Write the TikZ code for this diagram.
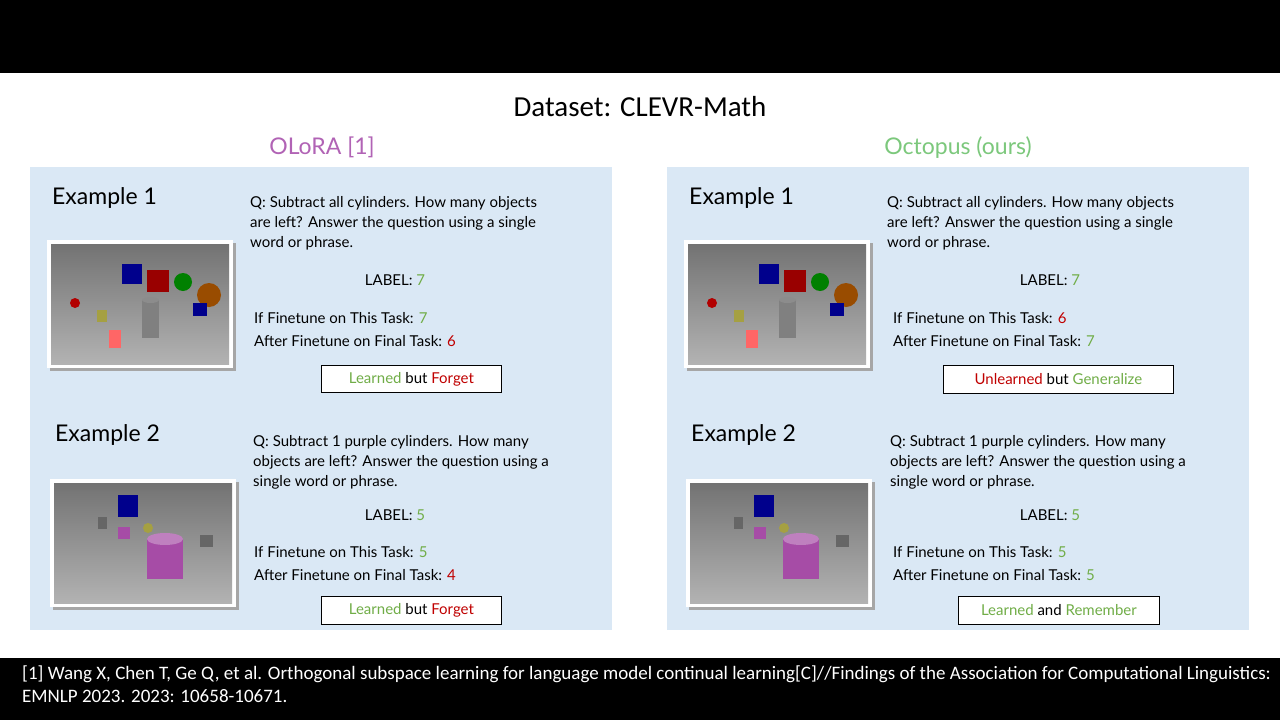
\documentclass[tikz,border=0pt]{standalone}
\usepackage{fontspec}
\setmainfont{Carlito}
\newfontfamily\cfont{Lato}
\definecolor{pan}{HTML}{DAE8F5}
\definecolor{gr}{HTML}{70AD47}
\definecolor{rd}{HTML}{C00000}
\definecolor{pu}{HTML}{B163B5}
\definecolor{gb}{HTML}{7CC87C}
\tikzset{
 txt/.style={anchor=base west,inner sep=0pt,font=\cfont\fontsize{15}{18}\selectfont},
 ctxt/.style={anchor=base,inner sep=0pt,font=\cfont\fontsize{15}{18}\selectfont},
 ex/.style={anchor=base west,inner sep=0pt,font=\cfont\fontsize{23}{26}\selectfont},
 lbox/.style={draw=black,fill=white,line width=0.8pt,anchor=north west,inner sep=0pt,font=\cfont\fontsize{15}{18}\selectfont},
}
\newcommand{\scene}[3]{%
\begin{scope}[shift={(#1,#2)}]
 \fill[black!35] (3,3) rectangle (189,131);
 \fill[white] (0,0) rectangle (186,128);
 \shade[top color=black!55,bottom color=black!30] (4,4) rectangle (182,124);
 \ifnum#3=1
 \fill[blue!55!black] (75,24) rectangle (95,44);
 \fill[red!60!black] (100,30) rectangle (122,52);
 \fill[green!50!black] (136,42) circle (9);
 \fill[orange!60!black] (162,55) circle (12);
 \fill[black!50] (95,60) rectangle (112,98);
 \fill[black!45] (103.5,60) ellipse (8.5 and 3);
 \fill[red!60] (62,90) rectangle (74,108);
 \fill[yellow!60!black] (50,70) rectangle (60,82);
 \fill[red!70!black] (28,63) circle (5);
 \fill[blue!55!black] (146,63) rectangle (160,76);
 \else
 \fill[blue!55!black] (68,16) rectangle (88,38);
 \fill[violet!70] (97,60) rectangle (133,100);
 \fill[violet!50] (115,60) ellipse (18 and 6);
 \fill[violet!70] (68,48) rectangle (80,60);
 \fill[yellow!60!black] (98,49) circle (5);
 \fill[black!60] (48,38) rectangle (57,50);
 \fill[black!60] (150,56) rectangle (163,68);
 \fi
\end{scope}}
\begin{document}
\begin{tikzpicture}[x=1pt,y=-1pt]
\useasboundingbox (0,0) rectangle (1280,720);
\fill[white] (0,0) rectangle (1280,720);
\fill[black] (0,0) rectangle (1280,73);
\fill[black] (0,658) rectangle (1280,720);
\node[anchor=base,inner sep=0pt,font=\fontsize{29}{32}\selectfont] (title) at (640,116) {Dataset: CLEVR-Math};
\node[anchor=base,inner sep=0pt,text=pu,font=\cfont\fontsize{23}{26}\selectfont] (hl) at (322,154) {OLoRA [1]};
\node[anchor=base,inner sep=0pt,text=gb,font=\cfont\fontsize{23}{26}\selectfont] (hr) at (958,154) {Octopus (ours)};
\fill[pan] (30,167) rectangle (612,630);
\fill[pan] (667,167) rectangle (1249,630);
\node[anchor=north west,inner sep=0pt,text=white,align=left,font=\fontsize{19}{23}\selectfont] (ref) at (22,666)
 {[1] Wang X, Chen T, Ge Q, et al. Orthogonal subspace learning for language model continual learning[C]//Findings of the Association for Computational Linguistics:\\EMNLP 2023. 2023: 10658-10671.};
% left panel
\node[ex] (l1) at (52,204) {Example 1};
\scene{47}{240}{1}
\node[txt] (lq1) at (250,207) {Q: Subtract all cylinders. How many objects};
\node[txt] at (250,227) {are left? Answer the question using a single};
\node[txt] at (250,247) {word or phrase.};
\node[ctxt] (ll1) at (395,285) {LABEL: \textcolor{gr}{7}};
\node[txt] (lf1) at (254,323) {If Finetune on This Task: \textcolor{gr}{7}};
\node[txt] (la1) at (254,346) {After Finetune on Final Task: \textcolor{rd}{6}};
\node[lbox,minimum width=180pt,minimum height=27pt] (lb1) at (321,365) {\textcolor{gr}{Learned} but \textcolor{rd}{Forget}};
\node[ex] (l2) at (55,441) {Example 2};
\scene{50}{479}{2}
\node[txt] (lq2) at (253,446) {Q: Subtract 1 purple cylinders. How many};
\node[txt] at (253,466) {objects are left? Answer the question using a};
\node[txt] at (253,486) {single word or phrase.};
\node[ctxt] (ll2) at (395,520) {LABEL: \textcolor{gr}{5}};
\node[txt] (lf2) at (254,557) {If Finetune on This Task: \textcolor{gr}{5}};
\node[txt] (la2) at (254,580) {After Finetune on Final Task: \textcolor{rd}{4}};
\node[lbox,minimum width=180pt,minimum height=28pt] (lb2) at (321,596) {\textcolor{gr}{Learned} but \textcolor{rd}{Forget}};
% right panel
\node[ex] (r1) at (689,204) {Example 1};
\scene{684}{240}{1}
\node[txt] (rq1) at (887,207) {Q: Subtract all cylinders. How many objects};
\node[txt] at (887,227) {are left? Answer the question using a single};
\node[txt] at (887,247) {word or phrase.};
\node[ctxt] (rl1) at (1050,285) {LABEL: \textcolor{gr}{7}};
\node[txt] (rf1) at (893,323) {If Finetune on This Task: \textcolor{rd}{6}};
\node[txt] (ra1) at (893,346) {After Finetune on Final Task: \textcolor{gr}{7}};
\node[lbox,minimum width=230pt,minimum height=28pt] (rb1) at (943,365) {\textcolor{rd}{Unlearned} but \textcolor{gr}{Generalize}};
\node[ex] (r2) at (691,441) {Example 2};
\scene{686}{479}{2}
\node[txt] (rq2) at (890,446) {Q: Subtract 1 purple cylinders. How many};
\node[txt] at (890,466) {objects are left? Answer the question using a};
\node[txt] at (890,486) {single word or phrase.};
\node[ctxt] (rl2) at (1050,520) {LABEL: \textcolor{gr}{5}};
\node[txt] (rf2) at (893,557) {If Finetune on This Task: \textcolor{gr}{5}};
\node[txt] (ra2) at (893,580) {After Finetune on Final Task: \textcolor{gr}{5}};
\node[lbox,minimum width=201pt,minimum height=28pt] (rb2) at (958,596) {\textcolor{gr}{Learned} and \textcolor{gr}{Remember}};
\end{tikzpicture}
\end{document}
